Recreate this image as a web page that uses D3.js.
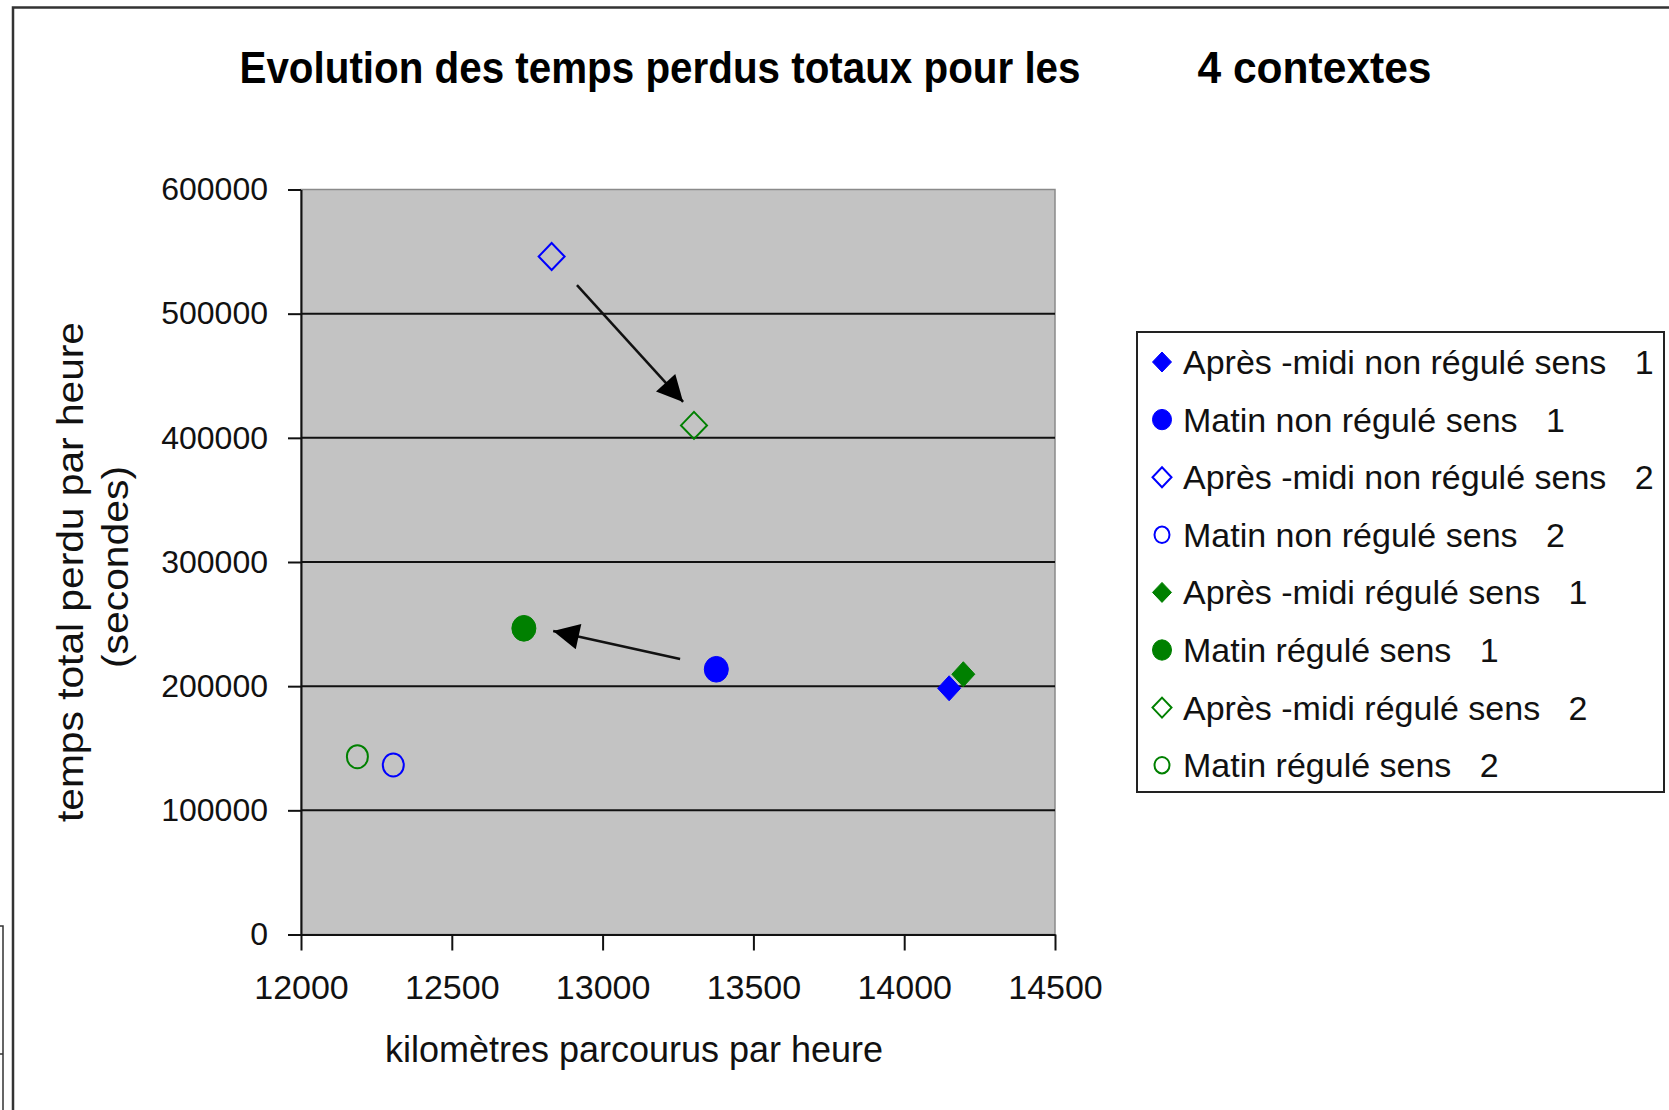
<!DOCTYPE html>
<html>
<head>
<meta charset="utf-8">
<script src="https://cdn.jsdelivr.net/npm/d3@7"></script>
<style>
  body { margin: 0; background: #fff; }
  text { font-family: "Liberation Sans", Arial, sans-serif; white-space: pre; }
</style>
</head>
<body>
<script>
// series (one point each)
var names = [
  "Après -midi non régulé sens   1",
  "Matin non régulé sens   1",
  "Après -midi non régulé sens   2",
  "Matin non régulé sens   2",
  "Après -midi régulé sens   1",
  "Matin régulé sens   1",
  "Après -midi régulé sens   2",
  "Matin régulé sens   2"
];
var kmh = [14149, 13377, 12831, 12306, 14196, 12739, 13303, 12187];
var lost = [198300, 213600, 546000, 136500, 209600, 246600, 410000, 143200];

var xTicks = [12000, 12500, 13000, 13500, 14000, 14500];
var yTicks = [0, 100000, 200000, 300000, 400000, 500000, 600000];

// arrows drawn on the chart, [x0, y0, x1, y1] in data units
var arrows = [
  [12915, 523000, 13267, 428900],
  [13257, 221900, 12836, 244400]
];

// marker style per series
var colors = ["#0000ff", "#0000ff", "#0000ff", "#0000ff", "#008000", "#008000", "#008000", "#008000"];
var shapes = ["diamond", "circle", "diamond", "circle", "diamond", "circle", "diamond", "circle"];
var filled = [true, true, false, false, true, true, false, false];

var width = 1669, height = 1110;
var plot = {left: 301, right: 1055, top: 189.5, bottom: 934.5};

var svg = d3.select("body").append("svg")
    .attr("width", width)
    .attr("height", height);

// page frame fragments
svg.append("path")
    .attr("d", "M13,1110 L13,7.5 L1669,7.5")
    .attr("fill", "none").attr("stroke", "#333").attr("stroke-width", 2.5);
svg.append("path")
    .attr("d", "M0,926 L3,926 L3,1110 M0,1054 L3,1054")
    .attr("fill", "none").attr("stroke", "#333").attr("stroke-width", 1.5);

var x = d3.scaleLinear().domain([12000, 14500]).range([plot.left, plot.right]);
var y = d3.scaleLinear().domain([0, 600000]).range([plot.bottom, plot.top]);

svg.append("rect")
    .attr("x", plot.left).attr("y", plot.top)
    .attr("width", plot.right - plot.left).attr("height", plot.bottom - plot.top)
    .attr("fill", "#c3c3c3")
    .attr("stroke", "#8a8a8a").attr("stroke-width", 1.5);

// grid
svg.append("g").selectAll("line")
    .data(yTicks.filter(function(d) { return d > 0 && d < 600000; }))
  .enter().append("line")
    .attr("x1", plot.left).attr("x2", plot.right)
    .attr("y1", function(d) { return y(d); })
    .attr("y2", function(d) { return y(d); })
    .attr("stroke", "#111").attr("stroke-width", 2);

var yAxis = svg.append("g")
    .attr("transform", "translate(" + plot.left + ",0)")
    .call(d3.axisLeft(y).tickValues(yTicks).tickFormat(d3.format("d"))
      .tickSize(13).tickSizeOuter(0).tickPadding(20));

var xAxis = svg.append("g")
    .attr("transform", "translate(0," + plot.bottom + ")")
    .call(d3.axisBottom(x).tickValues(xTicks).tickFormat(d3.format("d"))
      .tickSize(16).tickSizeOuter(0).tickPadding(24));

[yAxis, xAxis].forEach(function(a) {
  a.select(".domain").attr("stroke", "#111").attr("stroke-width", 2);
  a.selectAll(".tick line").attr("stroke", "#111").attr("stroke-width", 2);
  a.selectAll(".tick text").attr("fill", "#111")
    .style("font-family", "'Liberation Sans', Arial, sans-serif");
});
yAxis.selectAll(".tick text").style("font-size", "32px");
xAxis.selectAll(".tick text").style("font-size", "34px");

// titles
svg.append("text")
    .attr("x", 239.5).attr("y", 83)
    .attr("textLength", 841).attr("lengthAdjust", "spacingAndGlyphs")
    .style("font-size", "44px").style("font-weight", "bold")
    .text("Evolution des temps perdus totaux pour les");
svg.append("text")
    .attr("x", 1197.5).attr("y", 83)
    .attr("textLength", 234).attr("lengthAdjust", "spacingAndGlyphs")
    .style("font-size", "44px").style("font-weight", "bold")
    .text("4 contextes");

svg.append("text")
    .attr("x", 385).attr("y", 1062)
    .attr("textLength", 498).attr("lengthAdjust", "spacingAndGlyphs")
    .style("font-size", "36px").attr("fill", "#111")
    .text("kilomètres parcourus par heure");

svg.append("text")
    .attr("transform", "translate(83,572) rotate(-90)")
    .attr("text-anchor", "middle")
    .attr("textLength", 500).attr("lengthAdjust", "spacingAndGlyphs")
    .style("font-size", "36px").attr("fill", "#111")
    .text("temps total perdu par heure");
svg.append("text")
    .attr("transform", "translate(128,567) rotate(-90)")
    .attr("text-anchor", "middle")
    .attr("textLength", 202).attr("lengthAdjust", "spacingAndGlyphs")
    .style("font-size", "36px").attr("fill", "#111")
    .text("(secondes)");

// arrows
svg.append("defs").append("marker")
    .attr("id", "head")
    .attr("viewBox", "0 0 10 10")
    .attr("refX", 10).attr("refY", 5)
    .attr("markerUnits", "userSpaceOnUse")
    .attr("markerWidth", 30).attr("markerHeight", 26)
    .attr("orient", "auto")
  .append("path")
    .attr("d", "M0,0 L10,5 L0,10 Z")
    .attr("fill", "#000");

svg.append("g").selectAll("line")
    .data(arrows)
  .enter().append("line")
    .attr("x1", function(d) { return x(d[0]); })
    .attr("y1", function(d) { return y(d[1]); })
    .attr("x2", function(d) { return x(d[2]); })
    .attr("y2", function(d) { return y(d[3]); })
    .attr("stroke", "#111").attr("stroke-width", 2.5)
    .attr("marker-end", "url(#head)");

function diamond(cx, cy, w, h) {
  return "M" + cx + "," + (cy - h) + "L" + (cx + w) + "," + cy +
         "L" + cx + "," + (cy + h) + "L" + (cx - w) + "," + cy + "Z";
}

function drawMarker(g, i, cx, cy, big) {
  var c = colors[i];
  if (shapes[i] === "diamond") {
    var w = filled[i] ? (big ? 11.5 : 9.5) : (big ? 13 : 9.5);
    var h = filled[i] ? (big ? 12.5 : 10) : (big ? 13.5 : 10);
    g.append("path")
      .attr("d", diamond(cx, cy, w, h))
      .attr("fill", filled[i] ? c : "none")
      .attr("stroke", c).attr("stroke-width", filled[i] ? 1 : 2);
  } else {
    var r = filled[i] ? (big ? 12 : 9.5) : (big ? 10.5 : 7.5);
    g.append("ellipse")
      .attr("cx", cx).attr("cy", cy)
      .attr("rx", r).attr("ry", filled[i] ? r * 1.07 : r * 1.1)
      .attr("fill", filled[i] ? c : "none")
      .attr("stroke", c).attr("stroke-width", filled[i] ? 1 : 2);
  }
}

var pts = svg.append("g");
names.forEach(function(n, i) {
  drawMarker(pts, i, x(kmh[i]), y(lost[i]), true);
});

// legend
var lg = svg.append("g");
lg.append("rect")
    .attr("x", 1137).attr("y", 332)
    .attr("width", 527).attr("height", 460)
    .attr("fill", "#fff").attr("stroke", "#222").attr("stroke-width", 2);

names.forEach(function(n, i) {
  var cy = 362 + i * 57.6;
  drawMarker(lg, i, 1162, cy, false);
  lg.append("text")
    .attr("x", 1183).attr("y", cy + 12)
    .attr("xml:space", "preserve")
    .style("font-size", "34px").attr("fill", "#111")
    .text(n);
});
</script>
</body>
</html>
